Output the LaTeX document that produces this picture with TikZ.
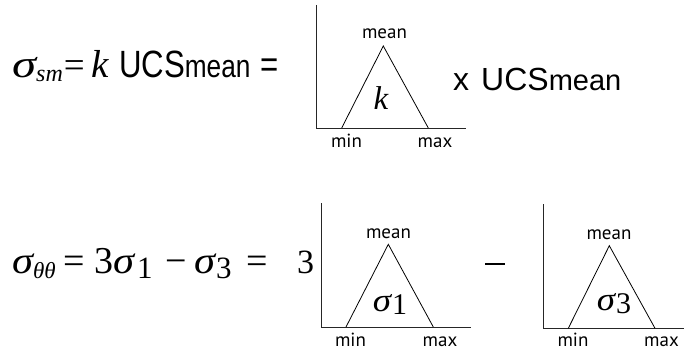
\documentclass[tikz,border=0pt]{standalone}
\usepackage{graphicx}
\usepackage{fontspec}
\newfontfamily\helv{Liberation Sans}
\newfontfamily\nhelv[FakeStretch=0.82]{Liberation Sans}
\newfontfamily\myr{PT Sans}
\newfontfamily\tm{Liberation Serif}
\newcommand\fsz[1]{\fontsize{#1}{#1}\selectfont}
\newcommand\isg[1][1.12]{\scalebox{#1}[1]{\tm\itshape σ}}
\begin{document}
\begin{tikzpicture}[x=1pt,y=-1pt,
  axis/.style={line width=0.9pt, black!85},
  tri/.style={line width=0.8pt},
  lbl/.style={font=\myr\fsz{19}, inner sep=0, anchor=base},
  eqn/.style={font=\tm\fsz{37}, inner sep=0, anchor=base west},
  inner/.style={font=\tm\fsz{33}, inner sep=0, anchor=base}]
\useasboundingbox (0,0) rectangle (684,350);
% top equation
\node[eqn] (eq1) at (12,78) {\fsz{39}\isg[1.25]\raisebox{-4pt}{\fsz{24}\itshape sm}\hspace{1pt}{\fsz{37}=}\hspace{7pt}{\itshape k}\hspace{10pt}{\nhelv\fsz{38}UCS{\fsz{32}mean}\hspace{10pt}=}};
% top graph
\coordinate (a1t) at (316.7,5);
\coordinate (a1o) at (316.7,128);
\coordinate (a1r) at (465.7,128);
\draw[axis] (a1t) -- (a1o) -- (a1r);
\coordinate (t1a) at (341.7,128);
\coordinate (t1b) at (383.3,46);
\coordinate (t1c) at (428.3,128);
\draw[tri] (t1a) -- (t1b) -- (t1c);
\node[lbl] (m1) at (384.5,39) {mean};
\node[lbl] (n1) at (346.5,147) {min};
\node[lbl] (x1) at (435,147) {max};
\node[inner] (k1) at (381,110) {\itshape k};
\node[eqn] (ucs1) at (453,91) {\helv\fsz{32}x\hspace{12pt}UCS{\fsz{29}mean}};
% bottom equation
\node[eqn] (eq2) at (12,273) {\fsz{38}\isg\raisebox{-5pt}{\fsz{23}\itshape θθ}\hspace{8pt}=\hspace{9pt}3\isg\hspace{3pt}\raisebox{-5pt}{\fsz{31}1}\hspace{13pt}−\hspace{7pt}\isg\hspace{1pt}\raisebox{-5pt}{\fsz{31}3}\hspace{15pt}=};
\node[eqn] (three) at (297,273) {\fsz{34}3};
% bottom graph 1
\coordinate (a2t) at (321.7,203);
\coordinate (a2o) at (321.7,327);
\coordinate (a2r) at (470.7,327);
\draw[axis] (a2t) -- (a2o) -- (a2r);
\coordinate (t2a) at (346,327);
\coordinate (t2b) at (388.3,244.3);
\coordinate (t2c) at (433.3,327);
\draw[tri] (t2a) -- (t2b) -- (t2c);
\node[lbl] (m2) at (388.5,238) {mean};
\node[lbl] (n2) at (350.5,346) {min};
\node[lbl] (x2) at (440,346) {max};
\node[inner] (s1) at (390,311.7) {\isg\hspace{1pt}\raisebox{-3pt}{\fsz{30}1}};
% minus
\node[inner sep=0] (minus) at (495,264) {\rule{20pt}{1.8pt}};
% bottom graph 2
\coordinate (a3t) at (543.3,204);
\coordinate (a3o) at (543.3,328.3);
\coordinate (a3r) at (684,328.3);
\draw[axis] (a3t) -- (a3o) -- (a3r);
\coordinate (t3a) at (568.3,328.3);
\coordinate (t3b) at (609.3,245.7);
\coordinate (t3c) at (655,328.3);
\draw[tri] (t3a) -- (t3b) -- (t3c);
\node[lbl] (m3) at (609,239) {mean};
\node[lbl] (n3) at (573,346) {min};
\node[lbl] (x3) at (661.5,346) {max};
\node[inner] (s3) at (614,310) {\isg\hspace{1pt}\raisebox{-3pt}{\fsz{30}3}};
\end{tikzpicture}
\end{document}
